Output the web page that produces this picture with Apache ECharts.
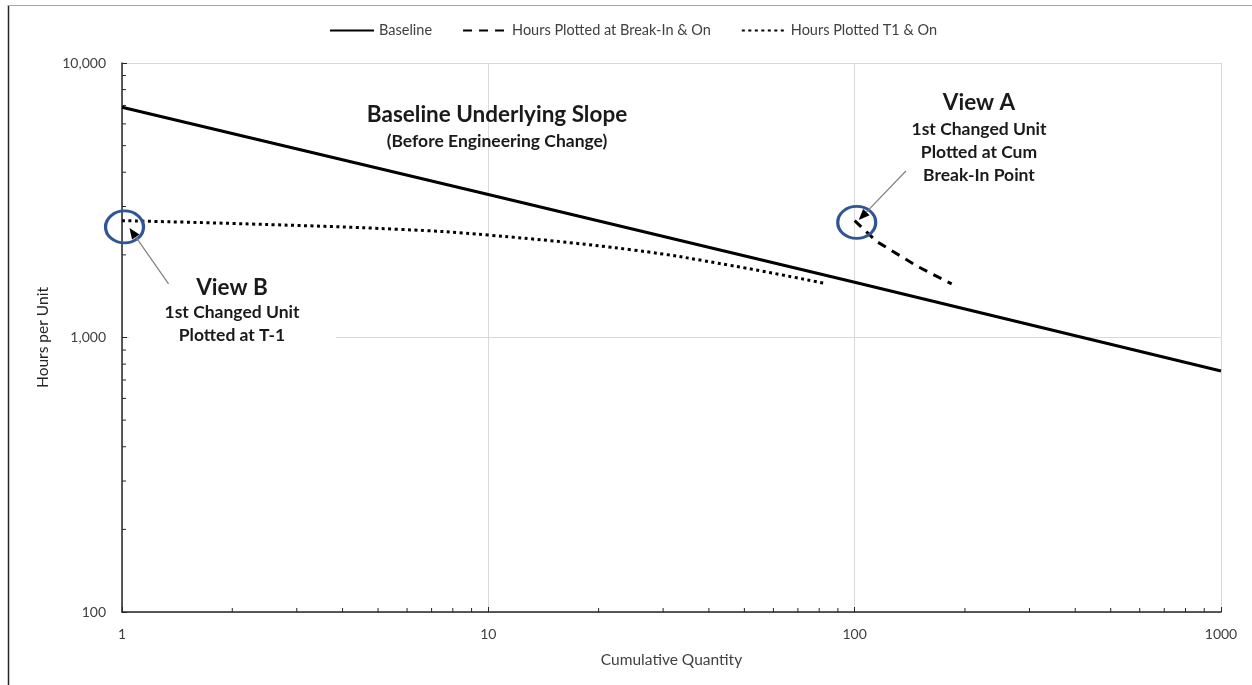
<!DOCTYPE html>
<html>
<head>
<meta charset="utf-8">
<script src="https://cdn.jsdelivr.net/npm/echarts@6/dist/echarts.min.js"></script>
<style>
html,body{margin:0;padding:0;background:#fff;}
#main{width:1252px;height:685px;}
</style>
</head>
<body>
<div id="main"></div>
<script>
// ---- data ----
const seriesNames = ['Baseline', 'Hours Plotted at Break-In & On', 'Hours Plotted T1 & On'];
const baselineData = [[1, 6900], [10, 3320], [100, 1590], [1000, 755]];
const breakInData = [[100, 2665], [115, 2234], [149, 1811], [184, 1567]];
const t1Data = [[1, 2665], [2.23, 2592], [5.73, 2477], [10, 2362], [24.8, 2084], [46.4, 1826], [82.7, 1576]];
const circleData = [[1.016, 2527], [101.3, 2625]];
const xTickValues = [1, 10, 100, 1000];
const yTickValues = [100, 1000, 10000];
const minorX = [2,3,4,5,6,7,8,9,20,30,40,50,60,70,80,90,200,300,400,500,600,700,800,900];
const minorY = [200,300,400,500,600,700,800,900,2000,3000,4000,5000,6000,7000,8000,9000];
// arrows: [from, to] in data space
const arrowB = [[1.34, 1567], [1.048, 2507]];
const arrowA = [[138, 4043], [102.6, 2680]];

const FONT = 'Lato, "Open Sans", sans-serif';
const chart = echarts.init(document.getElementById('main'));

const option = {
  backgroundColor: '#ffffff',
  animation: false,
  textStyle: { fontFamily: FONT },
  legend: {
    top: 18,
    left: 324,
    itemWidth: 44,
    itemHeight: 14,
    itemGap: 30,
    itemStyle: { opacity: 0 },
    textStyle: { color: '#404040', fontSize: 14.5, fontFamily: FONT },
    data: seriesNames
  },
  grid: { left: 122, right: 31, top: 63, bottom: 73 },
  xAxis: {
    type: 'log', logBase: 10, min: 1, max: 1000,
    name: 'Cumulative Quantity', nameLocation: 'middle', nameGap: 40,
    nameTextStyle: { color: '#404040', fontSize: 15.5, fontFamily: FONT },
    axisLine: { show: true, lineStyle: { color: '#262626', width: 1.5 } },
    axisTick: { show: true, inside: true, length: 5, lineStyle: { color: '#262626' } },
    axisLabel: { color: '#404040', fontSize: 14, margin: 15, formatter: v => String(Math.round(v)) },
    splitLine: { show: true, lineStyle: { color: '#d9d9d9', width: 1 } },
    minorTick: { show: false }
  },
  yAxis: {
    type: 'log', logBase: 10, min: 100, max: 10000,
    name: 'Hours per Unit', nameLocation: 'middle', nameGap: 71, nameRotate: 90,
    nameTextStyle: { color: '#262626', fontSize: 15.5, fontFamily: FONT },
    axisLine: { show: true, lineStyle: { color: '#262626', width: 1.5 } },
    axisTick: { show: true, inside: true, length: 5, lineStyle: { color: '#262626' } },
    axisLabel: { color: '#404040', fontSize: 14, margin: 16,
      formatter: v => Math.round(v).toLocaleString('en-US') },
    splitLine: { show: true, lineStyle: { color: '#d9d9d9', width: 1 } }
  },
  series: [
    {
      name: seriesNames[0], type: 'line', data: baselineData, symbol: 'none',
      lineStyle: { color: '#000000', width: 3 }, itemStyle: { color: '#000000' }, z: 3
    },
    {
      name: seriesNames[1], type: 'line', data: breakInData, symbol: 'none', smooth: false,
      lineStyle: { color: '#000000', width: 3, type: [9, 7] }, itemStyle: { color: '#000000' }, z: 3
    },
    {
      name: seriesNames[2], type: 'line', data: t1Data, symbol: 'none', smooth: 0.4,
      lineStyle: { color: '#000000', width: 3, type: [3, 3.5] }, itemStyle: { color: '#000000' }, z: 3
    },
    {
      name: 'circles', type: 'scatter', data: circleData, symbol: 'circle', symbolSize: [38, 32],
      itemStyle: { color: 'rgba(0,0,0,0)', borderColor: '#2f5597', borderWidth: 3, opacity: 1 }, z: 4,
      silent: true
    },
    {
      name: 'minorX', type: 'custom', silent: true, z: 5,
      data: minorX.map(v => [v]),
      encode: { x: 0 },
      renderItem: function (params, api) {
        const p = api.coord([api.value(0), 100]);
        return { type: 'line', shape: { x1: p[0], y1: p[1], x2: p[0], y2: p[1] - 4 },
                 style: { stroke: '#262626', lineWidth: 1 } };
      }
    },
    {
      name: 'minorY', type: 'custom', silent: true, z: 5,
      data: minorY.map(v => [1, v]),
      encode: { x: 0, y: 1 },
      renderItem: function (params, api) {
        const p = api.coord([1, api.value(1)]);
        return { type: 'line', shape: { x1: p[0], y1: p[1], x2: p[0] + 4, y2: p[1] },
                 style: { stroke: '#262626', lineWidth: 1 } };
      }
    }
  ]
};
chart.setOption(option);

function px(p) { return chart.convertToPixel({ gridIndex: 0 }, p); }
function arrow(pair) {
  const a = px(pair[0]), b = px(pair[1]);
  const dx = b[0] - a[0], dy = b[1] - a[1];
  const L = Math.sqrt(dx * dx + dy * dy);
  const ux = dx / L, uy = dy / L;
  const hl = 11, hw = 4.5;
  const bx = b[0] - ux * hl, by = b[1] - uy * hl;
  return [
    { type: 'line', z: 100, shape: { x1: a[0], y1: a[1], x2: bx, y2: by },
      style: { stroke: '#7f7f7f', lineWidth: 1.2 } },
    { type: 'polygon', z: 100, shape: { points: [[b[0], b[1]], [bx - uy * hw, by + ux * hw], [bx + uy * hw, by - ux * hw]] },
      style: { fill: '#000000' } }
  ];
}
function txt(s, x, y, size) {
  return { type: 'text', z: 100, x: x, y: y,
    style: { text: s, fill: '#1a1a1a', font: 'bold ' + size + 'px ' + FONT, align: 'center', verticalAlign: 'middle' } };
}

const g = [];
// border lines of chart area
g.push({ type: 'line', z: 100, shape: { x1: 8.5, y1: 5, x2: 8.5, y2: 685 }, style: { stroke: '#262626', lineWidth: 1.5 } });
g.push({ type: 'line', z: 100, shape: { x1: 8, y1: 5.5, x2: 1252, y2: 5.5 }, style: { stroke: '#a6a6a6', lineWidth: 1 } });
// white box behind View B text (hides gridline as in the reference)
g.push({ type: 'rect', z: 50, shape: { x: 129, y: 268, width: 207, height: 80 }, style: { fill: '#ffffff' } });
g.push(...arrow(arrowB));
g.push(...arrow(arrowA));
g.push(txt('Baseline Underlying Slope', 497, 115, 22.5));
g.push(txt('(Before Engineering Change)', 497, 141, 17.5));
g.push(txt('View A', 979, 103, 22.5));
g.push(txt('1st Changed Unit', 979, 129, 17.5));
g.push(txt('Plotted at Cum', 979, 152, 17.5));
g.push(txt('Break-In Point', 979, 175, 17.5));
g.push(txt('View B', 232, 288, 22.5));
g.push(txt('1st Changed Unit', 232, 312, 17.5));
g.push(txt('Plotted at T-1', 232, 335, 17.5));
chart.setOption({ graphic: { elements: g } });
</script>
</body>
</html>
